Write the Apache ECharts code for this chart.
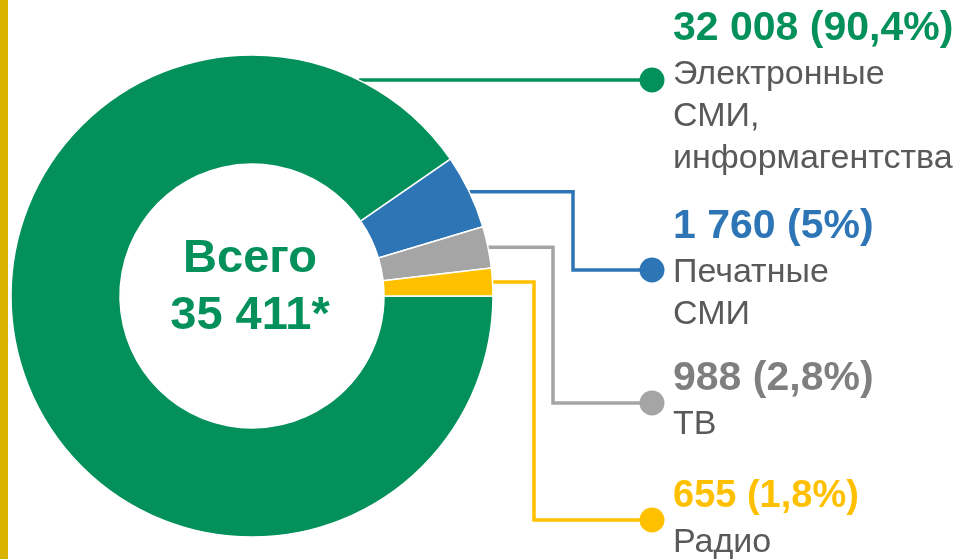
<!DOCTYPE html>
<html>
<head>
<meta charset="utf-8">
<script src="https://cdn.jsdelivr.net/npm/echarts@6/dist/echarts.min.js"></script>
<style>
    html, body { margin: 0; padding: 0; background: #fff; }
    #chart { width: 967px; height: 559px; }
</style>
</head>
<body>
<div id="chart"></div>
<script>
// data
const categories = ['Электронные\nСМИ,\nинформагентства', 'Печатные\nСМИ', 'ТВ', 'Радио'];
const values = [32008, 1760, 988, 655];
const shareLabels = ['90,4%', '5%', '2,8%', '1,8%'];

const sliceColors = ['#03905A', '#2E75B6', '#A5A5A5', '#FFC000'];
const valueColors = ['#03905A', '#2E75B6', '#7F7F7F', '#FFC000'];
const valueSizes = [41, 41, 41, 38];

// leader layout (px): elbow x of the connector, y of the dot, top of the label block
const elbowX = [null, 573, 553, 534];
const dotY = [80, 270, 403, 520];
const labelTop = [4, 202, 354, 472];

const cx = 252, cy = 296, rOut = 241, rIn = 132;
const dotX = 652, labelX = 673;
const font = '"Liberation Sans", Arial, sans-serif';

const fmt = v => String(v).replace(/\B(?=(\d{3})+(?!\d))/g, ' ');
const total = values.reduce((a, b) => a + b, 0);

const rich = {
    n: { fontSize: 34, lineHeight: 42, color: '#595959', fontFamily: font }
};
valueColors.forEach((c, i) => {
    rich['v' + i] = { fontSize: valueSizes[i], lineHeight: 50, fontWeight: 'bold', color: c, fontFamily: font };
});

const chart = echarts.init(document.getElementById('chart'));
chart.setOption({
    animation: false,
    graphic: [
        { type: 'rect', shape: { x: 0, y: 0, width: 8, height: 559 }, style: { fill: '#D9B300' } },
        {
            type: 'text', x: cx - 2, y: 288,
            style: {
                text: 'Всего\n' + fmt(total) + '*',
                font: 'bold 47px ' + font, lineHeight: 57,
                fill: '#03905A', align: 'center', verticalAlign: 'middle'
            }
        }
    ].concat(dotY.map((y, i) => ({
        type: 'circle', shape: { cx: dotX, cy: y, r: 12.5 }, style: { fill: sliceColors[i] }, z: 10
    }))),
    series: [{
        type: 'pie',
        center: [cx, cy],
        radius: [rIn, rOut],
        startAngle: 0,
        clockwise: true,
        avoidLabelOverlap: false,
        emphasis: { disabled: true },
        itemStyle: { borderColor: '#fff', borderWidth: 1.5 },
        label: {
            show: true,
            position: 'outside',
            formatter: p => `{v${p.dataIndex}|${fmt(p.value)} (${shareLabels[p.dataIndex]})}\n` +
                categories[p.dataIndex].split('\n').map(s => `{n|${s}}`).join('\n'),
            rich: rich
        },
        labelLine: { show: true, length: 10, length2: 10, lineStyle: { width: 3.5 } },
        labelLayout: function (params) {
            const i = params.dataIndex;
            let start;
            if (elbowX[i] === null) {
                const dy = cy - dotY[i];
                start = [cx + Math.sqrt(rOut * rOut - dy * dy), dotY[i]];
            } else {
                start = params.labelLinePoints[0];
            }
            const pts = elbowX[i] === null
                ? [start, [dotX, dotY[i]]]
                : [start, [elbowX[i], start[1]], [elbowX[i], dotY[i]], [dotX, dotY[i]]];
            return {
                x: labelX, y: labelTop[i],
                align: 'left', verticalAlign: 'top',
                labelLinePoints: pts
            };
        },
        data: values.map((v, i) => ({
            value: v, name: categories[i], itemStyle: { color: sliceColors[i] }
        }))
    }]
});
</script>
</body>
</html>
